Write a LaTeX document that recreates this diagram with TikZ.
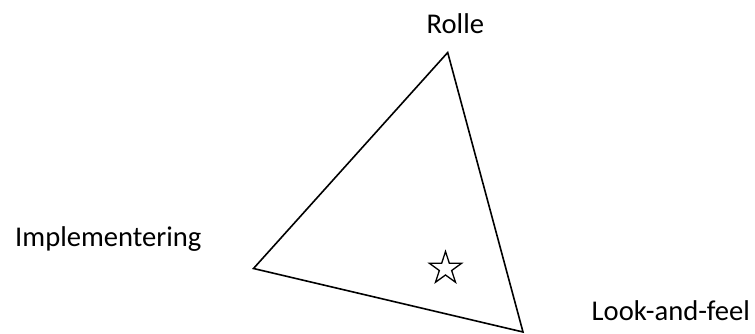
\documentclass[tikz,border=0pt]{standalone}
\usepackage{fontspec}
\setmainfont{Carlito}
\usetikzlibrary{shapes.geometric}
\begin{document}
\begin{tikzpicture}[x=1pt,y=-1pt,
  lbl/.style={anchor=base west,inner sep=0pt,font=\fontsize{28.6}{30}\selectfont},
  tri/.style={line width=1.6pt,line join=miter},
  starbox/.style={star,star points=5,star point ratio=2.618,draw,line width=1.3pt,inner sep=0pt,minimum size=34pt}]
\useasboundingbox (0,0) rectangle (755,334);
\coordinate (top) at (447.7,52.5);
\coordinate (left) at (253.5,268.5);
\coordinate (right) at (523,332);
\draw[tri] (top) -- (left) -- (right) -- cycle;
\node[starbox] (st) at (445.5,268.5) {};
\node[lbl] (rolle) at (426.5,34) {Rolle};
\node[lbl] (impl) at (15,246.5) {Implementering};
\node[lbl] (laf) at (591.5,320) {Look-and-feel};
\end{tikzpicture}
\end{document}
